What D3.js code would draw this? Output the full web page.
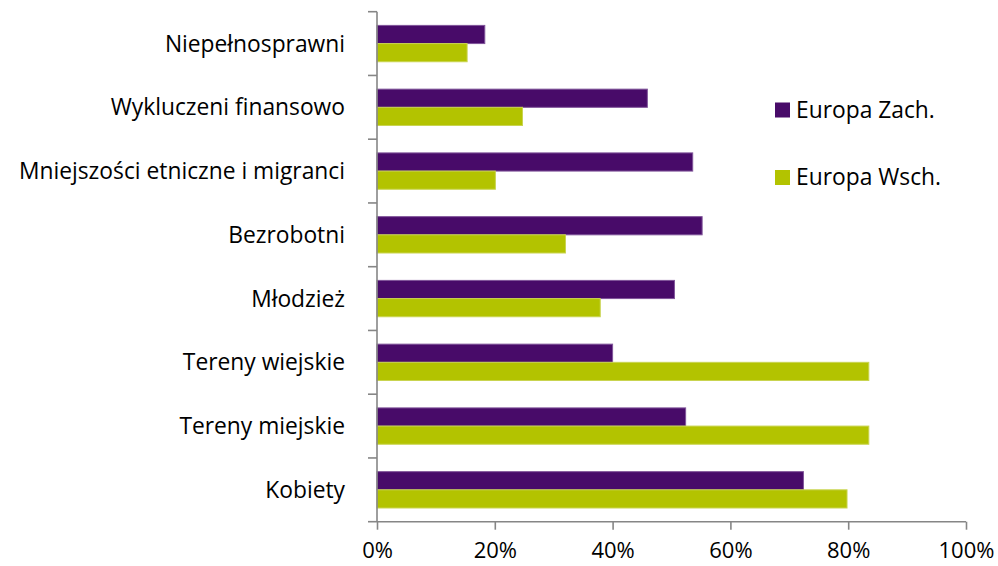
<!DOCTYPE html>
<meta charset="utf-8">
<style>
body { margin: 0; background: #fff; }
text { font-family: "Open Sans", "Liberation Sans", sans-serif; fill: #000; }
.axis path, .axis line { stroke: #868686; stroke-width: 1.6px; }
</style>
<body>
<script src="https://cdn.jsdelivr.net/npm/d3@7"></script>
<script>

var width = 998,
    height = 566;

var categories = ["Niepełnosprawni", "Wykluczeni finansowo", "Mniejszości etniczne i migranci",
                  "Bezrobotni", "Młodzież", "Tereny wiejskie", "Tereny miejskie", "Kobiety"];
var seriesNames = ["Europa Zach.", "Europa Wsch."];
var zach = [18.3, 45.9, 53.6, 55.2, 50.5, 40.0, 52.4, 72.4];
var wsch = [15.3, 24.7, 20.1, 32.0, 37.9, 83.5, 83.5, 79.8];
var xTicks = [0, 20, 40, 60, 80, 100];

var colors = ["#480b69", "#b3c300"];
var edges = ["#80559a", "#c9d450"];

var fontSize = "22.8px";

var svg = d3.select("body").append("svg")
    .attr("width", width)
    .attr("height", height);

var x = d3.scaleLinear().domain([0, 100]).range([377, 966]);
var y = d3.scaleBand().domain(categories).range([11.7, 521.7]);

// inner band for the two bars of a category
var inner = d3.scaleBand().domain([0, 1]).range([13.7, y.bandwidth() - 13.7]);

var rows = svg.selectAll(".row")
    .data(categories)
    .enter().append("g")
    .attr("class", "row")
    .attr("transform", function(d) { return "translate(0," + y(d) + ")"; });

[zach, wsch].forEach(function(vals, s) {
  rows.append("rect")
      .attr("x", x(0))
      .attr("y", inner(s))
      .attr("width", function(d, i) { return x(vals[i]) - x(0); })
      .attr("height", inner.bandwidth())
      .attr("fill", colors[s])
      .attr("stroke", edges[s])
      .attr("stroke-width", 1);
});

// y axis
var yAxis = svg.append("g")
    .attr("class", "axis")
    .attr("transform", "translate(" + x(0) + ",0)");
yAxis.append("line")
    .attr("y1", y.range()[0]).attr("y2", y.range()[1]);
yAxis.selectAll(".tk")
    .data(d3.range(categories.length + 1))
    .enter().append("line")
    .attr("x1", -9).attr("x2", 0)
    .attr("y1", function(i) { return y.range()[0] + i * y.step(); })
    .attr("y2", function(i) { return y.range()[0] + i * y.step(); });

svg.selectAll(".cat")
    .data(categories)
    .enter().append("text")
    .attr("x", 345)
    .attr("y", function(d) { return y(d) + y.bandwidth() / 2; })
    .attr("dy", "0.35em")
    .attr("text-anchor", "end")
    .style("font-size", fontSize)
    .text(function(d) { return d; });

// x axis
var xAxis = svg.append("g")
    .attr("class", "axis")
    .attr("transform", "translate(0," + y.range()[1] + ")")
    .call(d3.axisBottom(x).tickValues(xTicks).tickSize(8).tickPadding(13)
      .tickFormat(function(d) { return d + "%"; }));
xAxis.select(".domain").attr("d", "M" + x(0) + ",0H" + x(100));
xAxis.selectAll("text")
    .style("font-size", "22px")
    .attr("fill", "#000");

// legend
var legend = svg.selectAll(".legend")
    .data(seriesNames)
    .enter().append("g")
    .attr("transform", function(d, i) { return "translate(775," + (110 + i * 67.5) + ")"; });
legend.append("rect")
    .attr("x", 0).attr("y", -7.5)
    .attr("width", 15).attr("height", 15)
    .attr("fill", function(d, i) { return colors[i]; });
legend.append("text")
    .attr("x", 21)
    .attr("dy", "0.35em")
    .style("font-size", fontSize)
    .text(function(d) { return d; });

</script>
